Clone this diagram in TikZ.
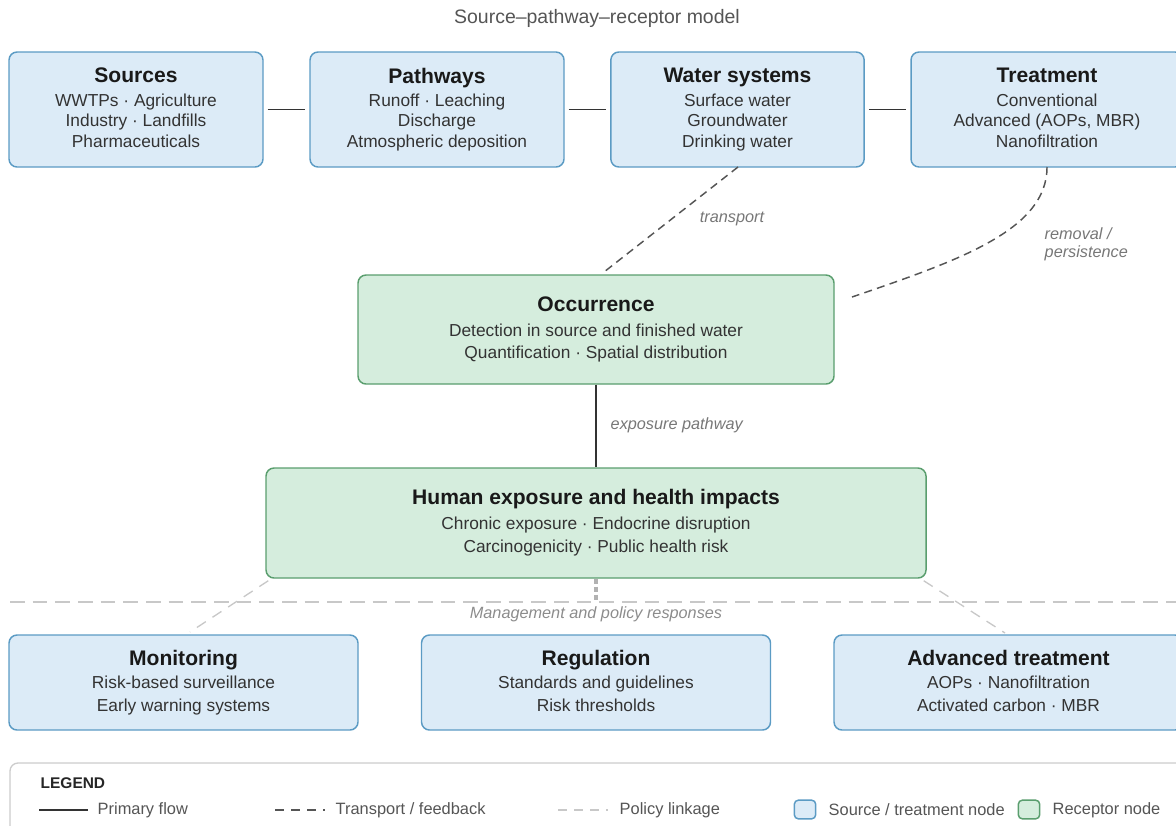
\documentclass[tikz,border=0pt]{standalone}
\usepackage{fontspec}
\setmainfont{Liberation Sans}
\usepackage{tikz}

\definecolor{srcfill}{HTML}{DCEBF7}
\definecolor{srcline}{HTML}{5B9BC4}
\definecolor{recfill}{HTML}{D5EDDD}
\definecolor{recline}{HTML}{5A9E6E}
\definecolor{bodytext}{HTML}{333333}
\definecolor{flowgray}{HTML}{333333}
\definecolor{feedgray}{HTML}{555555}
\definecolor{policygray}{HTML}{C8C8C8}
\definecolor{notegray}{HTML}{777777}

\tikzset{
  srcbox/.style={draw=srcline, fill=srcfill, line width=1.1pt, rounded corners=6pt,
    align=center, text=bodytext, font=\fontsize{13}{15.4}\selectfont},
  recbox/.style={draw=recline, fill=recfill, line width=1.1pt, rounded corners=6pt,
    align=center, text=bodytext, font=\fontsize{13}{17.2}\selectfont},
  flowline/.style={draw=flowgray, line width=1.2pt},
  feedline/.style={draw=feedgray, line width=1.1pt, dash pattern=on 6pt off 4pt},
  policyline/.style={draw=policygray, line width=1.1pt, dash pattern=on 11pt off 6pt},
  notelabel/.style={text=notegray, font=\itshape\fontsize{12.2}{13.5}\selectfont},
  legtext/.style={text=feedgray, font=\fontsize{12.3}{14}\selectfont, anchor=west}
}
\newcommand{\bt}[1]{{\color{black!90}\bfseries\fontsize{15.8}{18}\selectfont #1}}
\newcommand{\lastl}{\vphantom{gy}}

\begin{document}
\begin{tikzpicture}[x=0.75pt, y=-0.75pt]
\useasboundingbox (0,0) rectangle (1176,825);
\clip (0,0) rectangle (1176,825);

\node[text=feedgray, font=\fontsize{14.6}{16}\selectfont] (subtitle) at (597,18) {Source--pathway--receptor model};

% source-pathway row
\node[srcbox, minimum width=190.5pt, minimum height=86.25pt] (src) at (136,109.5)
  {\bt{Sources}\\[2pt] WWTPs · Agriculture\\ Industry · Landfills\\ Pharmaceuticals\lastl};
\node[srcbox, minimum width=190.5pt, minimum height=86.25pt] (path) at (437,109.5)
  {\bt{Pathways}\\[2pt] Runoff · Leaching\\ Discharge\\ Atmospheric deposition\lastl};
\node[srcbox, minimum width=190pt, minimum height=86.25pt] (water) at (737.5,109.5)
  {\bt{Water systems}\\[2pt] Surface water\\ Groundwater\\ Drinking water\lastl};
\node[srcbox, minimum width=204pt, minimum height=86.25pt] (treat) at (1047,109.5)
  {\bt{Treatment}\\[2pt] Conventional\\ Advanced (AOPs, MBR)\\ Nanofiltration\lastl};

\draw[flowline, shorten <=3pt, shorten >=3pt] (src) -- (path);
\draw[flowline, shorten <=3pt, shorten >=3pt] (path) -- (water);
\draw[flowline, shorten <=3pt, shorten >=3pt] (water) -- (treat);

% receptors
\node[recbox, minimum width=357pt, minimum height=81.75pt] (occ) at (596,329.5)
  {\bt{Occurrence}\\[1.5pt] Detection in source and finished water\\ Quantification · Spatial distribution\lastl};
\node[recbox, minimum width=495pt, minimum height=82.5pt] (human) at (596,523)
  {\bt{Human exposure and health impacts}\\[1.5pt] Chronic exposure · Endocrine disruption\\ Carcinogenicity · Public health risk\lastl};

\coordinate (wbot) at (738,167);
\coordinate (otop) at (604,272);
\coordinate (tbot) at (1047,167);
\coordinate (oend) at (852,297);
\draw[feedline] (wbot) -- (otop);
\draw[feedline] (tbot) .. controls (1047,230) and (960,260) .. (oend);
\node[notelabel] (ltrans) at (732,219) {transport};
\node[notelabel, anchor=west, align=left] (lremov) at (1040,244) {removal /\\ persistence};

\draw[flowline] (occ) -- (human);
\node[notelabel, anchor=west] (lexpo) at (606,425) {exposure pathway};

% policy responses
\coordinate (polL) at (10,602);
\coordinate (polR) at (1176,602);
\draw[policyline] (polL) -- (polR);
\node[text=black!45, font=\itshape\fontsize{12.2}{13.5}\selectfont] (lpol) at (596,614) {Management and policy responses};

\node[srcbox, minimum width=261.75pt, minimum height=71.25pt] (mon) at (183.5,682.5)
  {\bt{Monitoring}\\[1.5pt] Risk-based surveillance\\[1.8pt] Early warning systems\lastl};
\node[srcbox, minimum width=261.75pt, minimum height=71.25pt] (reg) at (596,682.5)
  {\bt{Regulation}\\[1.5pt] Standards and guidelines\\[1.8pt] Risk thresholds\lastl};
\node[srcbox, minimum width=261.75pt, minimum height=71.25pt] (adv) at (1008.5,682.5)
  {\bt{Advanced treatment}\\[1.5pt] AOPs · Nanofiltration\\[1.8pt] Activated carbon · MBR\lastl};

\coordinate (monend) at (190,632);
\coordinate (advend) at (1005,633);
\coordinate (polmid) at (596,602);
\draw[policyline, line width=1pt, dash pattern=on 8pt off 6pt] (human.south west) ++(3,2) -- (monend);
\draw[policyline, line width=1pt, dash pattern=on 8pt off 6pt] (human.south east) ++(-3,2) -- (advend);
\draw[draw=black!30, line width=3pt, dash pattern=on 4pt off 2pt] (human.south) -- (polmid);

% legend
\draw[draw=black!20, line width=1pt, fill=white, rounded corners=6pt] (10,763) rectangle (1200,850);
\node[anchor=west, text=black!85, font=\bfseries\fontsize{11.6}{12}\selectfont] (legtitle) at (36,783) {LEGEND};
\coordinate (l1a) at (39,810); \coordinate (l1b) at (88,810);
\draw[flowline, line width=1.2pt] (l1a) -- (l1b);
\node[legtext] (leg1) at (93,810) {Primary flow};
\coordinate (l2a) at (275,810); \coordinate (l2b) at (325,810);
\draw[feedline, dash pattern=on 7pt off 5pt] (l2a) -- (l2b);
\node[legtext] (leg2) at (331,810) {Transport / feedback};
\coordinate (l3a) at (558,810); \coordinate (l3b) at (608,810);
\draw[policyline, dash pattern=on 7pt off 5pt] (l3a) -- (l3b);
\node[legtext] (leg3) at (615,810) {Policy linkage};
\node[draw=srcline, fill=srcfill, line width=1.1pt, rounded corners=3pt, minimum width=16pt, minimum height=14pt] (sq1) at (805,809.5) {};
\node[legtext] (leg4) at (824,810) {Source / treatment node};
\node[draw=recline, fill=recfill, line width=1.1pt, rounded corners=3pt, minimum width=16pt, minimum height=14pt] (sq2) at (1029,809.5) {};
\node[legtext] (leg5) at (1048,810) {Receptor node};
\end{tikzpicture}
\end{document}
